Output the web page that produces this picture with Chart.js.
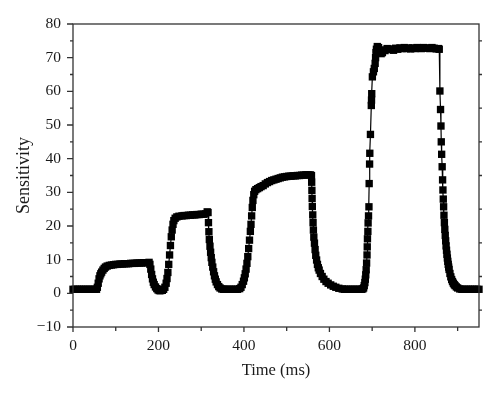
<!DOCTYPE html>
<html><head><meta charset="utf-8">
<script src="https://cdn.jsdelivr.net/npm/chart.js@4.4.0/dist/chart.umd.min.js"></script>
<style>html,body{margin:0;padding:0;background:#fff;}canvas{display:block;}</style>
</head><body>
<canvas id="c" width="500" height="397"></canvas>
<script>
const times = [
  0,5,10,15,20,25,30,35,40,45,50,55,
  57,59,61,63,65,67,70,73,76,80,85,90,95,100,
  105,110,115,120,125,130,135,140,145,150,155,160,165,170,175,178,
  180,182,184,186,188,190,193,196,199,202,205,209,212,
  215,218,220,222,224,226,228,230,232,234,236,239,243,248,
  255,260,265,270,275,280,285,290,295,300,305,310,314,316,
  317,318,319,320.5,322,323.5,325,327,329,331,333,335,338,341,344,348,352,
  355,360,365,370,375,380,385,390,
  393,396,399,401,403,405,407,409,411,413,415,416.5,418,419.5,421,423,425,
  428,432,436,440,445,450,455,460,465,470,475,480,485,490,
  495,500,505,510,515,520,525,530,535,540,545,550,555,558,
  558.5,559,559.5,560,561,561.7,562.5,563.5,565,566.5,568,570,572,574,576,579,583,
  587,592,597,603,609,615,622,630,635,640,645,650,655,660,665,670,675,678,
  680,681.5,683,684,685,686,687,688,688.5,689,690,690.5,691.5,692.5,
  693,694,694.5,696,698,698.5,699,700.5,703,705,707,708,709,710,712,
  715,718,721,724,727,730,735,740,745,750,755,760,765,770,775,780,
  785,790,795,800,805,810,815,820,825,830,835,840,845,850,855,857,
  858.5,860,861,861.7,862.6,863.8,864.8,865.6,866.4,867.2,868,869,870,871,872,
  873,874,875,876,877,878,879,880,882,884,886,888,890,892,894,897,900,
  905,910,915,920,925,930,935,940,945,950
];
const sensitivity = [
  1.2,1.2,1.2,1.2,1.2,1.2,1.2,1.2,1.2,1.2,1.2,1.2,
  1.8,3.0,4.3,5.2,5.8,6.3,6.9,7.4,7.8,8.1,8.3,8.4,8.5,8.6,
  8.6,8.7,8.7,8.8,8.8,8.8,8.9,8.9,8.9,9.0,9.0,9.0,9.1,9.1,9.1,9.2,
  8.6,7.2,5.6,4.3,3.3,2.6,1.9,1.4,1.0,0.8,0.8,0.9,1.2,
  1.8,3.0,4.4,6.2,8.6,11.4,14.2,16.8,18.8,20.5,21.6,22.3,22.7,22.9,
  23.0,23.1,23.1,23.2,23.2,23.3,23.3,23.4,23.4,23.5,23.5,23.6,24.2,24.0,
  21.0,18.3,16.0,14.0,12.2,10.6,9.2,7.8,6.4,5.2,4.2,3.4,2.6,2.0,1.6,1.3,1.2,
  1.2,1.2,1.2,1.2,1.2,1.2,1.2,1.4,
  1.8,2.6,3.6,4.6,5.8,7.2,8.9,10.9,13.3,15.8,18.4,20.5,23.0,25.5,27.6,29.3,30.3,
  30.8,31.1,31.4,31.7,32.0,32.5,32.9,33.2,33.5,33.7,33.9,34.1,34.3,34.5,
  34.6,34.7,34.8,34.8,34.9,34.9,35.0,35.0,35.1,35.1,35.2,35.2,35.2,35.0,
  33.0,30.6,28.2,25.8,23.3,21.0,18.8,16.7,14.9,13.0,11.3,9.9,8.6,7.6,6.9,5.9,5.0,
  4.2,3.5,3.0,2.5,2.1,1.8,1.5,1.3,1.2,1.2,1.2,1.2,1.2,1.2,1.2,1.2,1.2,1.3,
  1.6,2.3,3.2,4.2,5.5,7.0,9.0,11.4,13.8,16.2,18.4,20.9,23.0,25.7,
  32.6,38.4,41.6,47.2,55.8,57.4,59.3,64.3,65.8,66.8,68.3,70.0,71.5,72.5,73.3,
  73.0,71.8,71.2,71.5,72.3,72.1,72.7,72.4,72.6,72.2,72.8,72.5,72.9,72.7,73.0,72.7,
  72.9,72.6,72.9,72.7,73.0,72.8,72.7,73.0,72.8,72.9,72.7,73.0,72.8,72.6,72.7,72.5,
  60.1,54.6,49.7,45.0,41.3,37.6,33.7,30.7,28.0,25.7,23.2,21.0,19.0,17.2,15.6,
  14.1,12.8,11.6,10.5,9.5,8.6,7.8,7.1,5.9,4.9,4.1,3.5,3.0,2.6,2.3,1.9,1.6,
  1.3,1.2,1.2,1.2,1.2,1.2,1.2,1.2,1.2,1.2
];
const xMajorTicks = [0,200,400,600,800];
const xMinorTicks = [100,300,500,700,900];
const yMajorTicks = [-10,0,10,20,30,40,50,60,70,80];
const yMinorTicks = [-5,5,15,25,35,45,55,65,75];

const ink = '#1a1a1a';
const serif = '"Liberation Serif", "DejaVu Serif", serif';

const axesPlugin = {
  id: 'axesFrame',
  afterDraw(chart) {
    const {ctx, chartArea: a, scales: {x, y}} = chart;
    ctx.save();
    ctx.strokeStyle = '#333';
    ctx.lineWidth = 1.3;
    ctx.strokeRect(a.left, a.top, a.right - a.left, a.bottom - a.top);
    ctx.beginPath();
    yMajorTicks.forEach(v => { const p = y.getPixelForValue(v); ctx.moveTo(a.left - 6, p); ctx.lineTo(a.left, p); });
    yMinorTicks.forEach(v => { const p = y.getPixelForValue(v); ctx.moveTo(a.left - 3, p); ctx.lineTo(a.left, p); });
    yMinorTicks.forEach(v => { const p = y.getPixelForValue(v); ctx.moveTo(a.right, p); ctx.lineTo(a.right + 3, p); });
    xMajorTicks.forEach(v => { const p = x.getPixelForValue(v); ctx.moveTo(p, a.bottom); ctx.lineTo(p, a.bottom + 5); });
    xMinorTicks.forEach(v => { const p = x.getPixelForValue(v); ctx.moveTo(p, a.bottom); ctx.lineTo(p, a.bottom + 4); });
    ctx.stroke();
    ctx.restore();
  }
};

new Chart(document.getElementById('c'), {
  type: 'scatter',
  data: {
    datasets: [{
      data: times.map((t, i) => ({x: t, y: sensitivity[i]})),
      showLine: true,
      borderColor: '#000',
      borderWidth: 1.2,
      pointStyle: 'rect',
      pointRadius: 5.2,
      pointBorderWidth: 0,
      pointBackgroundColor: '#000',
      clip: false
    }]
  },
  options: {
    responsive: false,
    animation: false,
    layout: {padding: {left: 0, top: 24, right: 21, bottom: 0}},
    plugins: {legend: {display: false}, tooltip: {enabled: false}},
    scales: {
      x: {
        type: 'linear', min: 0, max: 950,
        afterBuildTicks: s => { s.ticks = xMajorTicks.map(v => ({value: v})); },
        afterFit: s => { s.height = 70; },
        grid: {display: false, drawTicks: false, tickLength: 0},
        border: {display: false},
        ticks: {padding: 10, color: ink, font: {family: serif, size: 15.5}, maxRotation: 0,
                callback: v => String(v).replace('-', '\u2212')},
        title: {display: true, text: 'Time (ms)', color: ink,
                font: {family: serif, size: 16.5}, padding: {top: 0, bottom: 16}}
      },
      y: {
        type: 'linear', min: -10, max: 80,
        afterBuildTicks: s => { s.ticks = yMajorTicks.map(v => ({value: v})); },
        afterFit: s => { s.width = 73; },
        grid: {display: false, drawTicks: false, tickLength: 0},
        border: {display: false},
        ticks: {padding: 12, color: ink, font: {family: serif, size: 15.5},
                callback: v => String(v).replace('-', '\u2212')},
        title: {display: true, text: 'Sensitivity', color: ink,
                font: {family: serif, size: 18}, padding: {top: 13.5, bottom: 0}}
      }
    }
  },
  plugins: [axesPlugin]
});
</script>
</body></html>
